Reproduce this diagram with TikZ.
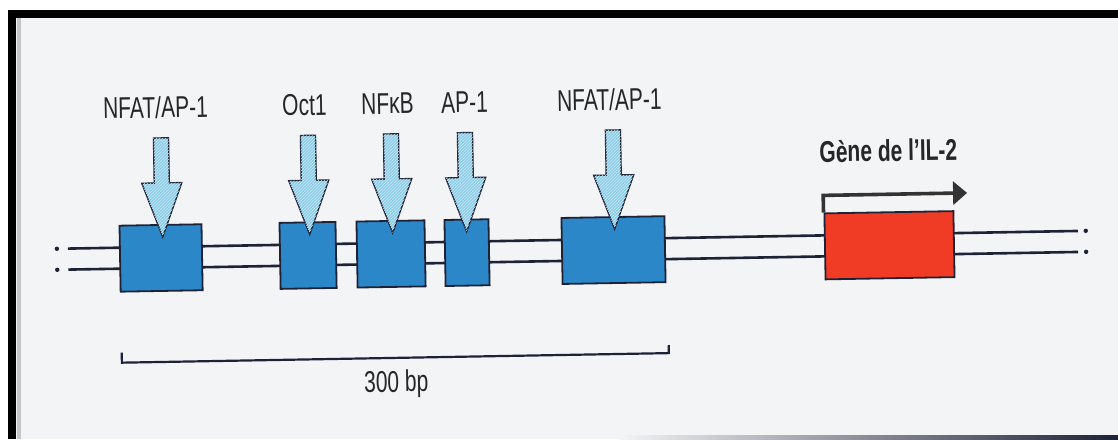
\documentclass[tikz,border=0pt]{standalone}
\usepackage{fontspec}
\usepackage{tikz}
\usetikzlibrary{arrows.meta,patterns}
\newfontfamily\lblfont{Liberation Sans}[FakeStretch=0.7]
\definecolor{paper}{HTML}{F3F4F6}
\definecolor{inkdark}{HTML}{1E2236}
\definecolor{boxblue}{HTML}{2B87C8}
\definecolor{arrowblue}{HTML}{8CCDE9}
\definecolor{genered}{HTML}{F03C25}
\definecolor{genegray}{HTML}{333333}

\begin{document}
\begin{tikzpicture}[x=1pt,y=-1pt,
  tfbox/.style={draw=inkdark,line width=1.8pt,fill=boxblue,minimum height=66pt,inner sep=0pt},
  genebox/.style={tfbox,fill=genered},
  tfarrow/.style={draw=inkdark,line width=1.4pt,fill=arrowblue,line join=miter,
    postaction={pattern=north east lines,pattern color=white!55!arrowblue}},
  dnaline/.style={draw=inkdark,line width=2.6pt},
  lbl/.style={font=\lblfont\fontsize{30}{30}\selectfont,text=black!85,inner sep=0pt,anchor=base},
  genearrow/.style={draw=genegray,line width=3.6pt,-{Triangle[length=14pt,width=23pt]}},
  scalebar/.style={draw=inkdark,line width=2.2pt}]
  \useasboundingbox (0,0) rectangle (1118,439);
  \fill[white] (0,0) rectangle (1118,439);
  \fill[paper] (16,18) rectangle (1118,439);
  \fill[black] (8,10) rectangle (1118,18);
  \fill[black] (8,10) rectangle (16,439);
  \fill[gray!45] (17,18) rectangle (21,439);
  \shade[left color=paper,right color=inkdark] (620,435) rectangle (1118,439);

  \begin{scope}[rotate around={1:(560,250)},transform shape]
  \coordinate (ltop) at (68,240);
  \coordinate (lbot) at (68,261);
  \coordinate (rtop) at (1078,240);
  \coordinate (rbot) at (1078,261);
  \draw[dnaline] (ltop) -- (rtop);
  \draw[dnaline] (lbot) -- (rbot);
  \fill[inkdark] (57,240) circle (2.2pt);
  \fill[inkdark] (57,261) circle (2.2pt);
  \fill[inkdark] (1086,240) circle (2.2pt);
  \fill[inkdark] (1086,261) circle (2.2pt);

  \node[tfbox,minimum width=82pt] (nfat1) at (161,251) {};
  \node[tfbox,minimum width=56pt] (oct) at (308,251) {};
  \node[tfbox,minimum width=68pt] (nfkb) at (391,251) {};
  \node[tfbox,minimum width=44pt] (ap) at (467,251) {};
  \node[tfbox,minimum width=103pt] (nfat2) at (613.5,251) {};
  \node[genebox,minimum width=129pt] (il2) at (889.5,251) {};

  \foreach \ax in {163,310,393,467,615}
    \draw[tfarrow] (\ax-7.5,131) -- (\ax+7.5,131) -- (\ax+7.5,176) -- (\ax+20,176)
      -- (\ax,230) -- (\ax-20,176) -- (\ax-7.5,176) -- cycle;

  \node[lbl] (lnfat1) at (158,111) {NFAT/AP-1};
  \node[lbl] (loct) at (307,111) {Oct1};
  \node[lbl] (lnfkb) at (390,111) {NFκB};
  \node[lbl] (lap) at (467,111) {AP-1};
  \node[lbl] (lnfat2) at (612,111) {NFAT/AP-1};
  \node[lbl,font=\lblfont\bfseries\fontsize{30}{30}\selectfont] (lgene) at (890,167) {Gène de l’IL-2};

  \coordinate (tss) at (968,200);
  \draw[genearrow] (il2.north west) |- (tss);

  \coordinate (sbl) at (120,355);
  \coordinate (sbr) at (667,355);
  \draw[scalebar] (120,345) -- (sbl) -- (sbr) -- (667,347);
  \node[lbl] (lscale) at (394,389) {300 bp};
  \end{scope}
\end{tikzpicture}
\end{document}
